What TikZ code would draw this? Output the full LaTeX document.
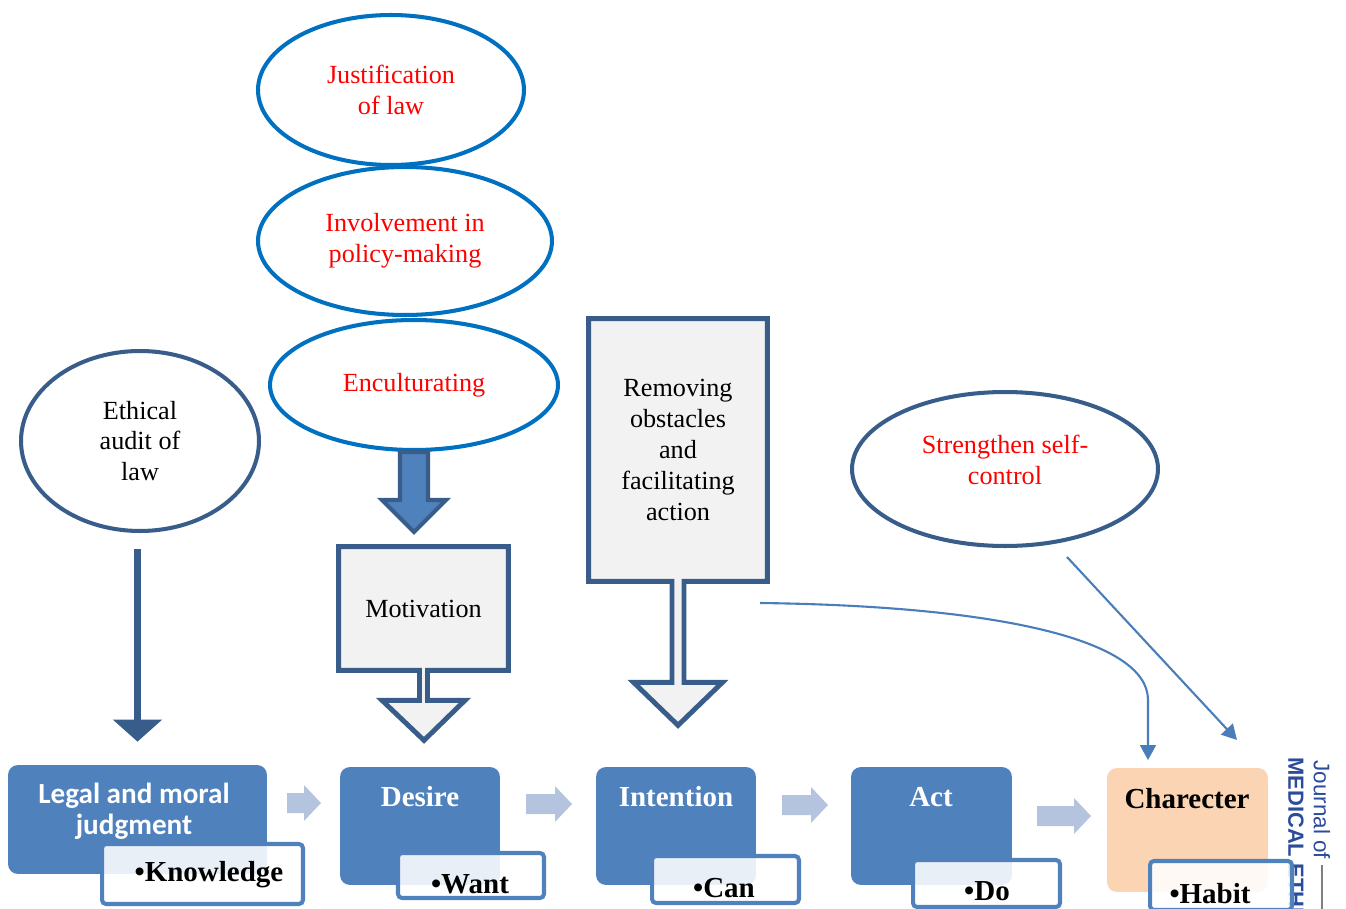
\documentclass[tikz,border=0pt]{standalone}
\usepackage{fontspec}
\setmainfont{Liberation Serif}
\newfontfamily\calibrifont{Carlito}
\newfontfamily\arialfont{Liberation Sans}
\usetikzlibrary{shapes.geometric,arrows.meta,calc,positioning,backgrounds}

\definecolor{ellblue}{HTML}{0070C0}
\definecolor{auditblue}{HTML}{385D8A}
\definecolor{stageblue}{HTML}{4F81BD}
\definecolor{flowblue}{HTML}{B4C4DF}
\definecolor{linkblue}{HTML}{4A7EBB}
\definecolor{callgray}{HTML}{F2F2F2}
\definecolor{peach}{HTML}{FBD4B4}
\definecolor{markblue}{HTML}{2B4C9B}

\tikzset{
  lawell/.style={ellipse, draw=ellblue, line width=2.3pt, text=red, align=center, inner sep=0pt, font=\fontsize{14.9}{17.6}\selectfont},
  auditell/.style={ellipse, draw=auditblue, line width=2.3pt, align=center, inner sep=0pt, font=\fontsize{14.9}{17.6}\selectfont},
  plaintxt/.style={align=center, inner sep=0pt, font=\fontsize{14.9}{17.6}\selectfont},
  callout/.style={fill=callgray, draw=auditblue, line width=2.8pt},
  pusharrow/.style={fill=stageblue, draw=auditblue, line width=2.3pt},
  auditarrow/.style={draw=auditblue, line width=4pt, -{Triangle[width=0.96cm,length=0.44cm]}, shorten <=0.32cm, shorten >=0.46cm},
  thinlink/.style={draw=linkblue, line width=1.2pt, -{Triangle[width=0.32cm,length=0.3cm]}},
  stagebox/.style={rounded corners=0.2cm, fill=stageblue, inner sep=0pt},
  stagehead/.style={text=white, align=center, inner sep=0pt, font=\fontsize{16.5}{17.6}\selectfont\bfseries},
  notebox/.style={rounded corners=0.08cm, draw=stageblue, line width=2.3pt, fill=white, fill opacity=0.88, inner sep=0pt},
  notetxt/.style={inner sep=0pt, font=\fontsize{16.5}{18}\selectfont\bfseries},
  pics/flowarrow/.style={code={\fill[flowblue] (0,-10) -- ({#1-17},-10) -- ({#1-17},-18) -- (#1,0) -- ({#1-17},18) -- ({#1-17},10) -- (0,10) -- cycle;}}
}

\begin{document}
\begin{tikzpicture}[x=0.02cm, y=-0.02cm]
    \useasboundingbox (0,0) rectangle (1346,909);
    \clip (0,0) rectangle (1346,909);

    % journal mark at the right edge
    \node[rotate=-90, anchor=west, inner sep=0pt, text=markblue, font=\arialfont\fontsize{12.8}{14}\selectfont] (journal) at (1322,760) {Journal of};
    \node[rotate=-90, anchor=west, inner sep=0pt, text=markblue, font=\arialfont\fontsize{12.5}{14}\selectfont\bfseries] (medical) at (1296,757) {MEDICAL ETHICS};
    \draw[gray, line width=1.2pt] ($(journal.east)+(0,6)$) -- (1322,915);

    % ellipses on top
    \node[lawell, minimum width=5.32cm, minimum height=3cm] (justif) at (391,90) {Justification\\of law};
    \node[lawell, minimum width=5.88cm, minimum height=2.96cm] (involve) at (405,241) {Involvement in\\policy-making};
    \node[lawell, minimum width=5.76cm, minimum height=2.6cm] (encult) at (414,385) {Enculturating};
    \node[auditell, minimum width=4.76cm, minimum height=3.6cm] (ethical) at (140,441) {Ethical\\audit of\\law};
    \node[auditell, minimum width=6.12cm, minimum height=3.08cm] (selfctl) at (1005,469) {};
    \node[plaintxt, text=red] (selftxt) at (1005,460) {Strengthen self-\\control};

    \draw[pusharrow] ($(encult.south)+(-14,0)$) -- ++(28,0) -- ++(0,48) -- ++(18,0)
        -- ($(encult.south)+(0,80)$) -- ($(encult.south)+(-32,48)$) -- ++(18,0) -- cycle;

    % callout boxes
    \node[plaintxt, minimum width=3.38cm, minimum height=2.46cm] (motiv) at (423.5,608.5) {Motivation};
    \node[plaintxt, minimum width=3.56cm, minimum height=5.24cm] (obstacle) at (678,450) {Removing\\obstacles\\and\\facilitating\\action};
    \begin{scope}[on background layer]
    \draw[callout] (motiv.north west) -- (motiv.north east) -- (motiv.south east)
        -- ($(motiv.south)+(4,0)$) -- ++(0,30) -- ++(37.5,0) -- ($(motiv.south)+(0.5,70)$)
        -- ($(motiv.south)+(-41.5,30)$) -- ++(37.5,0) -- ++(0,-30) -- (motiv.south west) -- cycle;
    \draw[callout] (obstacle.north west) -- (obstacle.north east) -- (obstacle.south east)
        -- ($(obstacle.south)+(6,0)$) -- ++(0,101) -- ++(38.5,0) -- ($(obstacle.south)+(0,144)$)
        -- ($(obstacle.south)+(-44.5,101)$) -- ++(38.5,0) -- ++(0,-101) -- (obstacle.south west) -- cycle;
    \end{scope}

    % stages
    \node[stagebox, minimum width=5.18cm, minimum height=2.18cm] (judgment) at (137.5,819.5) {};
    \node[stagebox, minimum width=3.2cm, minimum height=2.36cm] (desire) at (420,826) {};
    \node[stagebox, minimum width=3.2cm, minimum height=2.36cm] (intention) at (676,826) {};
    \node[stagebox, minimum width=3.22cm, minimum height=2.36cm] (act) at (931.5,826) {};
    \node[stagebox, fill=peach, minimum width=3.22cm, minimum height=2.48cm] (character) at (1187.5,830) {};

    \node[stagehead, font=\calibrifont\fontsize{16.6}{17.6}\selectfont\bfseries] (judgmenttxt) at (134,811.5) {Legal and moral\\judgment};
    \node[stagehead] (desiretxt) at (420,797) {Desire};
    \node[stagehead] (intenttxt) at (676,797) {Intention};
    \node[stagehead] (acttxt) at (931,797) {Act};
    \node[stagehead, text=black] (chartxt) at (1187,799) {Charecter};

    \node[notebox, minimum width=4.02cm, minimum height=1.2cm] (knowbox) at (202.5,874) {};
    \node[notebox, minimum width=2.92cm, minimum height=0.9cm] (wantbox) at (471,875.5) {};
    \node[notebox, minimum width=2.94cm, minimum height=0.94cm] (canbox) at (725.5,879.5) {};
    \node[notebox, minimum width=2.94cm, minimum height=0.94cm] (dobox) at (986.5,883.5) {};
    \node[notebox, minimum width=2.84cm, minimum height=0.98cm] (habitbox) at (1221,885.5) {};

    \node[notetxt] (knowtxt) at (209,875) {•Knowledge};
    \node[notetxt] (wanttxt) at (470,884) {•Want};
    \node[notetxt] (cantxt) at (724,888) {•Can};
    \node[notetxt] (dotxt) at (987,891) {•Do};
    \node[notetxt] (habittxt) at (1210,894) {•Habit};

    \pic at (287,803) {flowarrow=34};
    \pic at (526,804) {flowarrow=46};
    \pic at (782,805) {flowarrow=46};
    \pic at (1037,816) {flowarrow=54};

    % connectors
    \draw[auditarrow] (judgment.north |- ethical.south) -- (judgment.north);
    \coordinate (obstend) at (760,603);
    \coordinate (charin) at (1148,760);
    \coordinate (selfend) at (1067,557);
    \coordinate (charin2) at (1237,740);
    \draw[thinlink] (obstend) .. controls (1000,606) and (1148,640) .. (1148,700) -- (charin);
    \draw[thinlink] (selfend) -- (charin2);
\end{tikzpicture}
\end{document}
